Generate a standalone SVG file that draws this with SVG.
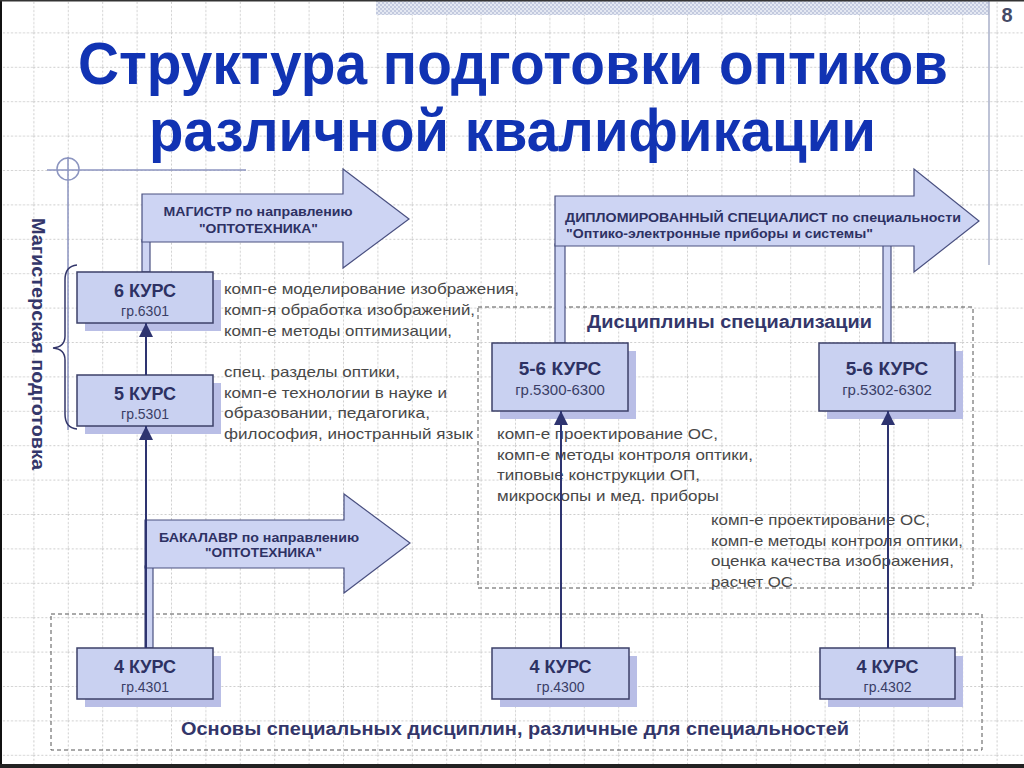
<svg xmlns="http://www.w3.org/2000/svg" width="1024" height="768" viewBox="0 0 1024 768">
  <defs>
    <pattern id="grid" patternUnits="userSpaceOnUse" x="-1" y="-2" width="34.4" height="34.4">
      <line x1="0" y1="0.5" x2="34.4" y2="0.5" stroke="#cdcdcd" stroke-width="1" stroke-dasharray="2 2"/>
      <line x1="0.5" y1="0" x2="0.5" y2="34.4" stroke="#cdcdcd" stroke-width="1" stroke-dasharray="2 2"/>
    </pattern>
    <pattern id="dither" patternUnits="userSpaceOnUse" width="4" height="4">
      <rect width="4" height="4" fill="#e4e8f2"/>
      <rect width="2" height="2" fill="#c3cadf"/>
      <rect x="2" y="2" width="2" height="2" fill="#c3cadf"/>
    </pattern>
    <marker id="ah" markerUnits="userSpaceOnUse" markerWidth="14" markerHeight="14" refX="14" refY="7" orient="auto">
      <path d="M0,0 L14,7 L0,14 z" fill="#2e3470"/>
    </marker>
    <style>
      .box { fill: #c9d1f1; stroke: #3c4068; stroke-width: 1.5; }
      .shadow { fill: #b9bee6; }
      .arrow { fill: #cdd4f3; stroke: #4a5080; stroke-width: 1.2; }
      .stem { fill: #cdd4f3; stroke: #4a5080; stroke-width: 1.2; }
      .ktitle { font-family: "Liberation Sans", Arial, sans-serif; font-weight: bold; font-size: 18px; fill: #2d3163; text-anchor: middle; }
      .ksub { font-family: "Liberation Sans", Arial, sans-serif; font-size: 14px; fill: #3a3e66; text-anchor: middle; }
      .alabel { font-family: "Liberation Sans", Arial, sans-serif; font-weight: bold; font-size: 13px; fill: #2d3163; }
      .body { font-family: "Liberation Sans", Arial, sans-serif; font-size: 15px; fill: #484848; }
      .head { font-family: "Liberation Sans", Arial, sans-serif; font-weight: bold; font-size: 18px; fill: #33366a; }
      .title { font-family: "Liberation Sans", Arial, sans-serif; font-weight: bold; font-size: 60px; fill: #1133b3; }
      .dash { fill: none; stroke: #555555; stroke-width: 1; stroke-dasharray: 4 3; }
      .conn { stroke: #2e3470; stroke-width: 2; fill: none; }
      .deco { stroke: #8c95c0; stroke-width: 1.5; fill: none; }
    </style>
  </defs>

  <!-- background -->
  <rect x="0" y="0" width="1024" height="768" fill="#ffffff"/>
  <rect x="0" y="0" width="1024" height="768" fill="url(#grid)"/>
  <rect x="376" y="0" width="613" height="15" fill="url(#dither)"/>
  <line x1="989" y1="0" x2="989" y2="265" stroke="#a9afc8" stroke-width="1.5"/>
  <text x="1007" y="22" font-family="Liberation Sans, Arial, sans-serif" font-weight="bold" font-size="20" fill="#454a66" text-anchor="middle">8</text>

  <!-- decorative guide -->
  <g id="guide">
    <line class="deco" x1="68" y1="157" x2="68" y2="430"/>
    <line class="deco" x1="47" y1="170" x2="246" y2="170"/>
    <circle class="deco" cx="68" cy="169" r="11"/>
  </g>

  <!-- title -->
  <g id="title">
    <text class="title" x="78" y="84" textLength="870" lengthAdjust="spacingAndGlyphs">Структура подготовки оптиков</text>
    <text class="title" x="149" y="151" textLength="727" lengthAdjust="spacingAndGlyphs">различной квалификации</text>
  </g>

  <!-- vertical label and brace -->
  <g id="master-label">
    <text class="head" transform="translate(32,218) rotate(90)" x="0" y="0" textLength="252" lengthAdjust="spacingAndGlyphs">Магистерская подготовка</text>
    <path d="M77,265 Q65,266 65,280 L65,336 Q65,347 53,348 Q65,349 65,360 L65,414 Q65,428 77,429" fill="none" stroke="#33366a" stroke-width="1.5"/>
  </g>

  <!-- dashed groups -->
  <g id="spec-group">
    <rect class="dash" x="478" y="307" width="495" height="281"/>
    <text class="head" x="587" y="328" textLength="285" lengthAdjust="spacingAndGlyphs">Дисциплины специализации</text>
  </g>
  <g id="base-group">
    <rect class="dash" x="51" y="614" width="931" height="136"/>
    <text class="head" x="181" y="735" textLength="668" lengthAdjust="spacingAndGlyphs">Основы специальных дисциплин, различные для специальностей</text>
  </g>

  <!-- block arrows -->
  <g id="arrow-master">
    <rect class="stem" x="142" y="240" width="8" height="32"/>
    <polygon class="arrow" points="142,194 343,194 343,169 409,219 343,268 343,242 142,242"/>
    <text class="alabel" x="258" y="216" text-anchor="middle" textLength="189" lengthAdjust="spacingAndGlyphs">МАГИСТР по направлению</text>
    <text class="alabel" x="258.5" y="233" text-anchor="middle" textLength="119" lengthAdjust="spacingAndGlyphs">"ОПТОТЕХНИКА"</text>
  </g>
  <g id="arrow-diplom">
    <rect class="stem" x="555" y="244" width="10" height="99"/>
    <rect class="stem" x="883" y="244" width="8" height="99"/>
    <polygon class="arrow" points="555,196 914,196 914,169 979,221 914,272 914,246 555,246"/>
    <text class="alabel" x="565" y="222" textLength="396" lengthAdjust="spacingAndGlyphs">ДИПЛОМИРОВАННЫЙ СПЕЦИАЛИСТ по специальности</text>
    <text class="alabel" x="566" y="238" textLength="307" lengthAdjust="spacingAndGlyphs">"Оптико-электронные приборы и системы"</text>
  </g>
  <g id="arrow-bachelor">
    <rect class="stem" x="145" y="566" width="8" height="82"/>
    <polygon class="arrow" points="145,520 344,520 344,494 410,543 344,593 344,568 145,568"/>
    <text class="alabel" x="259" y="542" text-anchor="middle" textLength="200" lengthAdjust="spacingAndGlyphs">БАКАЛАВР по направлению</text>
    <text class="alabel" x="263.5" y="557" text-anchor="middle" textLength="117" lengthAdjust="spacingAndGlyphs">"ОПТОТЕХНИКА"</text>
  </g>

  <!-- course boxes -->
  <g id="k6">
    <rect class="shadow" x="85" y="280" width="136" height="51"/>
    <rect class="box" x="77" y="272" width="136" height="51"/>
    <text class="ktitle" x="145" y="297">6 КУРС</text>
    <text class="ksub" x="145" y="316">гр.6301</text>
  </g>
  <g id="k5">
    <rect class="shadow" x="85" y="383" width="136" height="51"/>
    <rect class="box" x="77" y="375" width="136" height="51"/>
    <text class="ktitle" x="145" y="400">5 КУРС</text>
    <text class="ksub" x="145" y="419">гр.5301</text>
  </g>
  <g id="k4-4301">
    <rect class="shadow" x="85" y="656" width="136" height="51"/>
    <rect class="box" x="77" y="648" width="136" height="51"/>
    <text class="ktitle" x="145" y="673">4 КУРС</text>
    <text class="ksub" x="145" y="692">гр.4301</text>
  </g>
  <g id="k4-4300">
    <rect class="shadow" x="500" y="656" width="137" height="51"/>
    <rect class="box" x="492" y="648" width="137" height="51"/>
    <text class="ktitle" x="560.5" y="673">4 КУРС</text>
    <text class="ksub" x="560.5" y="692">гр.4300</text>
  </g>
  <g id="k4-4302">
    <rect class="shadow" x="828" y="656" width="135" height="51"/>
    <rect class="box" x="820" y="648" width="135" height="51"/>
    <text class="ktitle" x="887.5" y="673">4 КУРС</text>
    <text class="ksub" x="887.5" y="692">гр.4302</text>
  </g>
  <g id="k56-5300">
    <rect class="shadow" x="500" y="351" width="136" height="68"/>
    <rect class="box" x="492" y="343" width="136" height="68"/>
    <text class="ktitle" x="560" y="375" style="font-size:19px">5-6 КУРС</text>
    <text class="ksub" x="560" y="395" style="font-size:15px">гр.5300-6300</text>
  </g>
  <g id="k56-5302">
    <rect class="shadow" x="827" y="351" width="136" height="68"/>
    <rect class="box" x="819" y="343" width="136" height="68"/>
    <text class="ktitle" x="887" y="375" style="font-size:19px">5-6 КУРС</text>
    <text class="ksub" x="887" y="395" style="font-size:15px">гр.5302-6302</text>
  </g>

  <!-- discipline texts -->
  <g id="text-6">
    <text class="body" x="224" y="294" textLength="295" lengthAdjust="spacingAndGlyphs">комп-е моделирование изображения,</text>
    <text class="body" x="224" y="315" textLength="251" lengthAdjust="spacingAndGlyphs">комп-я обработка изображений,</text>
    <text class="body" x="224" y="335.5" textLength="228" lengthAdjust="spacingAndGlyphs">комп-е методы оптимизации,</text>
  </g>
  <g id="text-5">
    <text class="body" x="224" y="377" textLength="176" lengthAdjust="spacingAndGlyphs">спец. разделы оптики,</text>
    <text class="body" x="224" y="397.5" textLength="223" lengthAdjust="spacingAndGlyphs">комп-е технологии в науке и</text>
    <text class="body" x="224" y="418" textLength="206" lengthAdjust="spacingAndGlyphs">образовании, педагогика,</text>
    <text class="body" x="224" y="438.5" textLength="249" lengthAdjust="spacingAndGlyphs">философия, иностранный язык</text>
  </g>
  <g id="text-5300">
    <text class="body" x="497" y="439" textLength="221" lengthAdjust="spacingAndGlyphs">комп-е проектирование ОС,</text>
    <text class="body" x="497" y="459.5" textLength="256" lengthAdjust="spacingAndGlyphs">комп-е методы контроля оптики,</text>
    <text class="body" x="497" y="480" textLength="203" lengthAdjust="spacingAndGlyphs">типовые конструкции ОП,</text>
    <text class="body" x="497" y="500.5" textLength="222" lengthAdjust="spacingAndGlyphs">микроскопы и мед. приборы</text>
  </g>
  <g id="text-5302">
    <text class="body" x="711" y="525" textLength="219" lengthAdjust="spacingAndGlyphs">комп-е проектирование ОС,</text>
    <text class="body" x="711" y="545.5" textLength="252" lengthAdjust="spacingAndGlyphs">комп-е методы контроля оптики,</text>
    <text class="body" x="711" y="566" textLength="243" lengthAdjust="spacingAndGlyphs">оценка качества изображения,</text>
    <text class="body" x="711" y="586.5" textLength="82" lengthAdjust="spacingAndGlyphs">расчет ОС</text>
  </g>

  <!-- connectors -->
  <g id="connectors">
    <line class="conn" x1="146" y1="375" x2="146" y2="323" marker-end="url(#ah)"/>
    <line class="conn" x1="146" y1="648" x2="146" y2="426" marker-end="url(#ah)"/>
    <line class="conn" x1="561" y1="648" x2="561" y2="411" marker-end="url(#ah)"/>
    <line class="conn" x1="888" y1="648" x2="888" y2="411" marker-end="url(#ah)"/>
  </g>

  <!-- frame edges -->
  <rect x="0" y="0" width="2" height="768" fill="#111111"/>
  <rect x="0" y="0" width="1024" height="1.5" fill="#333333"/>
  <rect x="0" y="764" width="1024" height="4" fill="#222222"/>
</svg>
